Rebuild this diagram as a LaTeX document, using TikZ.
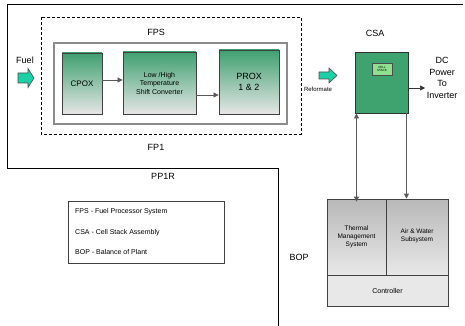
\documentclass[tikz,border=0pt]{standalone}
\usepackage{fontspec}
\setmainfont{Liberation Sans}
\usetikzlibrary{arrows.meta,calc}
\definecolor{gtop}{HTML}{3FA070}
\definecolor{gbot}{HTML}{E6E6E6}
\definecolor{csag}{HTML}{3EA36F}
\definecolor{cellg}{HTML}{8FE08F}
\definecolor{teal}{HTML}{1BD0A6}
\definecolor{btop}{HTML}{B8B8B8}
\definecolor{bbot}{HTML}{E8E8E8}
\tikzset{
  greenbox/.style={draw=black!75, line width=0.8pt, top color=gtop, bottom color=gbot, inner sep=0pt, align=center},
  lbl/.style={font=\fontsize{9}{10}\selectfont, inner sep=0pt},
  conn/.style={draw=black!65, line width=0.7pt, -{Triangle[length=5pt,width=5pt]}},
  fat/.style={fill=teal, draw=black!70, line width=0.6pt},
  gbox/.style={draw=black!75, line width=0.7pt, inner sep=0pt, align=center}
}
\begin{document}
\begin{tikzpicture}[x=1pt,y=-1pt]
\useasboundingbox (0,0) rectangle (465,326);
% outer frame
\draw[line width=0.8pt] (463,4) -- (7,4) -- (7,168) -- (278,168) -- (278,326);
% dashed FPS box
\draw[line width=0.7pt, dash pattern=on 3pt off 2pt] (41,17) rectangle (301,134);
\node[lbl] (fps) at (156,32) {FPS};
\node[lbl] (fp1) at (156,147) {FP1};
% gray inner box
\draw[draw=black!45, line width=1.4pt, fill=white] (54,43) rectangle (287,124);
% green blocks
\node[greenbox, minimum width=40pt, minimum height=61pt, font=\fontsize{8}{9}\selectfont] (cpox) at (82,83.5) {CPOX};
\node[greenbox, minimum width=73pt, minimum height=62pt, font=\fontsize{7}{8.5}\selectfont] (shift) at (159.5,83) {Low /High\\Temperature\\Shift Converter};
\node[greenbox, minimum width=60pt, minimum height=64pt, font=\fontsize{9}{11}\selectfont] (prox) at (249,82) {PROX\\1 \& 2};
\draw[conn] ([yshift=3.5pt]cpox.east) -- ([yshift=3.5pt]cpox.east -| shift.west);
\draw[conn] ([yshift=-12pt]shift.east) -- ([yshift=-12pt]shift.east -| prox.west);
% fuel arrow
\node[lbl] (fuel) at (25,60) {Fuel};
\draw[fat] (18,73) -- (28,73) -- (28,68.5) -- (34,78) -- (28,87.5) -- (28,83) -- (18,83) -- cycle;
% reformate arrow
\draw[fat] (319,72) -- (329,72) -- (329,68) -- (337,75.5) -- (329,83) -- (329,79) -- (319,79) -- cycle;
\node[font=\fontsize{6}{6.5}\selectfont, inner sep=0pt] (reform) at (318,89) {Reformate};
% CSA
\node[lbl] (csalbl) at (375,33) {CSA};
\node[draw=black!80, line width=0.8pt, fill=csag, minimum width=53pt, minimum height=61pt, inner sep=0pt] (csa) at (381.5,82.5) {};
\node[draw=black!70, line width=0.5pt, fill=cellg, minimum width=20pt, minimum height=12pt, inner sep=0pt, align=center, font=\fontsize{3}{3.5}\selectfont] (cell) at (382,69) {CELL\\STACK};
\node[font=\fontsize{9}{11.5}\selectfont, align=center, inner sep=0pt] (dc) at (442,78) {DC\\Power\\To\\Inverter};
\coordinate (dcend) at (425,88);
\draw[conn, draw=black!80] (csa.east |- dcend) -- (dcend);
% BOP
\node[lbl] (boplbl) at (299,257) {BOP};
\node[gbox, top color=btop, bottom color=bbot, minimum width=59pt, minimum height=76pt, font=\fontsize{6.5}{8}\selectfont] (thermal) at (356.5,237) {Thermal\\Management\\System};
\node[gbox, top color=btop, bottom color=bbot, minimum width=62pt, minimum height=76pt] (air) at (417,237) {};
\node[font=\fontsize{6.5}{8}\selectfont, align=center, inner sep=0pt] (airtxt) at (417,236) {Air \& Water\\Subsystem};
\node[gbox, fill=bbot, minimum width=121pt, minimum height=31pt, font=\fontsize{7}{8}\selectfont] (ctrl) at (387.5,290.5) {Controller};
\draw[conn, {Triangle[length=5pt,width=5pt]}-{Triangle[length=5pt,width=5pt]}] (thermal.north |- csa.south) -- ([yshift=-3pt]thermal.north);
\coordinate (rtop) at ($(csa.south east)+(-2,0)$);
\draw[conn] (rtop) -- (rtop |- air.north);
% PP1R and legend
\node[lbl] (pp1r) at (163,176) {PP1R};
\draw[line width=0.7pt, draw=black!75] (68,201) rectangle (224,263);
\node[font=\fontsize{7}{8}\selectfont, anchor=west, inner sep=0pt] (l1) at (75,212) {FPS - Fuel Processor System};
\node[font=\fontsize{7}{8}\selectfont, anchor=west, inner sep=0pt] (l2) at (75,233) {CSA - Cell Stack Assembly};
\node[font=\fontsize{7}{8}\selectfont, anchor=west, inner sep=0pt] (l3) at (75,252) {BOP - Balance of Plant};
\end{tikzpicture}
\end{document}
